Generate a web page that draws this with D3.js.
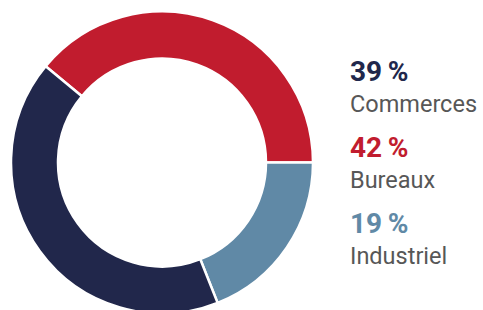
<!DOCTYPE html>
<html>
<head>
<meta charset="utf-8">
<script src="https://cdn.jsdelivr.net/npm/d3@7"></script>
<style>
  body { margin: 0; background: #fff; }
</style>
</head>
<body>
<div id="chart"></div>
<script>
// data
var categories = ["Commerces", "Industriel", "Bureaux"];
var values = [39, 19, 42];
var arcColors = ["#c11c2e", "#6089a6", "#21274b"];

// legend order and colours (as printed next to the ring)
var legendLabels = ["Commerces", "Bureaux", "Industriel"];
var legendValues = [39, 42, 19];
var legendColors = ["#21274b", "#c11c2e", "#6089a6"];

var width = 483, height = 310;
var cx = 162, cy = 162.5;
var outerR = 151, innerR = 104;

var svg = d3.select("#chart").append("svg")
    .attr("width", width)
    .attr("height", height);

var color = d3.scaleOrdinal().domain(categories).range(arcColors);

// ring starts so that the first slice ends exactly at 3 o'clock
var start = Math.PI / 2 - values[0] / d3.sum(values) * 2 * Math.PI;

var pie = d3.pie()
    .sort(null)
    .value(function(d, i) { return values[i]; })
    .startAngle(start)
    .endAngle(start + 2 * Math.PI);

var arc = d3.arc()
    .innerRadius(innerR)
    .outerRadius(outerR);

svg.append("g")
    .attr("transform", "translate(" + cx + "," + cy + ")")
    .selectAll("path")
    .data(pie(categories))
    .enter().append("path")
        .attr("d", arc)
        .attr("fill", function(d) { return color(d.data); })
        .attr("stroke", "#fff")
        .attr("stroke-width", 2.5);

// legend on the right
var legendColor = d3.scaleOrdinal().domain(legendLabels).range(legendColors);
var legend = svg.append("g").attr("transform", "translate(350,0)");

var items = legend.selectAll("g")
    .data(legendLabels)
    .enter().append("g")
        .attr("transform", function(d, i) { return "translate(0," + (81 + i * 76) + ")"; });

items.append("text")
    .attr("font-family", "Roboto, sans-serif")
    .attr("font-weight", "bold")
    .attr("font-size", 28)
    .attr("fill", function(d) { return legendColor(d); })
    .text(function(d, i) { return legendValues[i] + "\u2009%"; });

items.append("text")
    .attr("y", 31)
    .attr("font-family", "Roboto, sans-serif")
    .attr("font-size", 23.5)
    .attr("fill", "#575757")
    .text(function(d) { return d; });
</script>
</body>
</html>
